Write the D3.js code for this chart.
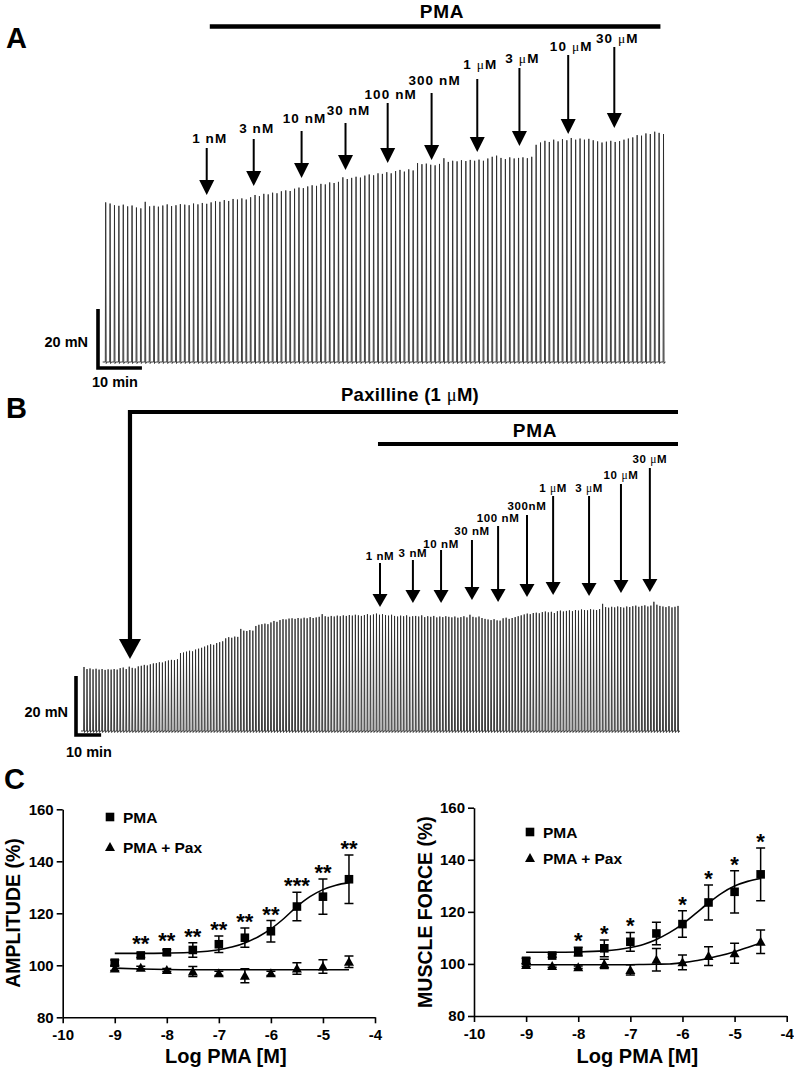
<!DOCTYPE html>
<html><head><meta charset="utf-8">
<script src="https://cdn.jsdelivr.net/npm/d3@7"></script>
<style>
body{margin:0;background:#fff}
svg{display:block}
text{font-family:Arial,"Liberation Sans",sans-serif;font-weight:bold;fill:#000}
</style>
</head><body>
<svg id="fig" width="794" height="1071"></svg>
<script>
// ================= DATA =================
// Panel A: peak force of each twitch (mN), one contraction per minute
const aPeaks = [56.0,55.6,55.0,54.8,55.2,54.6,54.9,54.2,53.9,
  56.2,
  54.6,54.8,54.5,54.9,55.3,54.7,55.0,55.4,55.2,55.0,55.6,55.3,55.8,
  55.5,56.0,56.4,56.2,56.8,56.5,57.2,57.0,57.4,57.0,57.8,
  58.6,58.2,59.0,58.8,59.4,59.2,59.9,60.2,60.0,60.8,
  61.2,61.0,61.6,62.0,61.8,62.5,62.3,63.0,62.8,63.2,
  64.8,64.2,64.6,65.0,64.7,65.4,65.8,65.5,66.2,66.0,
  66.6,66.2,67.0,67.4,66.8,67.6,67.2,69.8,69.4,69.6,
  69.2,69.0,69.5,71.5,70.2,70.6,70.4,70.8,70.5,70.9,70.6,
  71.0,70.6,71.4,72.0,72.4,71.6,71.2,71.8,71.4,71.6,
  71.8,71.5,72.0,
  76.2,77.0,77.6,77.2,78.0,77.4,78.2,77.8,78.6,78.0,78.4,78.0,78.3,
  77.8,77.4,77.0,77.3,77.6,77.2,77.5,78.0,78.4,78.8,79.6,79.4,80.2,80.0,80.8,80.4,80.0];
const aInterval = 1;          // min between contractions
const aBarMin = [23.7, 126.3]; // PMA application (min)
const aDoseLabels = ["1 nM","3 nM","10 nM","30 nM","100 nM","300 nM","1 μM","3 μM","10 μM","30 μM"];
const aDoseTimes  = [23.0,33.7,44.6,54.6,64.2,74.2,84.6,94.2,105.3,115.8];

// Panel B: peak force of each twitch (mN)
const bPeaks = [21.7,21.0,21.2,20.9,21.1,20.8,21.0,20.7,20.9,20.8,
  21.0,20.8,21.3,21.5,21.0,21.8,21.4,21.2,21.9,22.1,
  22.4,22.2,22.6,22.9,23.0,23.3,23.2,23.6,23.9,24.1,24.0,24.3,
  26.4,26.6,26.9,27.2,27.0,27.6,27.9,28.2,
  28.6,29.0,29.4,29.2,29.8,30.1,30.4,31.4,31.8,31.6,
  32.0,31.9,34.6,34.0,33.9,34.2,34.0,35.6,36.0,36.2,
  36.4,36.2,36.8,37.3,37.0,37.6,37.9,37.8,38.1,38.2,
  38.0,38.3,38.1,38.4,38.2,38.6,38.3,38.5,38.7,39.6,
  38.9,38.7,39.0,38.8,39.1,38.9,39.2,39.0,39.3,39.1,
  39.4,39.2,39.0,39.3,39.6,39.2,39.5,39.8,39.4,39.6,
  39.3,39.1,39.4,39.0,38.8,39.1,38.9,39.2,38.7,38.9,
  39.0,38.8,39.2,38.6,38.9,38.7,39.0,38.5,38.8,38.6,
  38.9,38.7,38.5,38.8,38.4,38.6,38.9,38.5,39.4,38.7,
  38.5,38.8,38.3,38.0,37.8,37.6,37.9,37.5,37.4,38.2,
  38.4,38.0,38.3,38.6,38.9,39.2,39.5,39.8,39.6,40.0,
  40.1,39.9,40.3,40.5,40.2,40.4,40.0,40.6,40.8,40.5,
  40.7,40.9,40.6,41.0,40.8,41.2,41.0,40.9,41.3,41.1,
  41.0,41.3,43.1,42.0,41.8,42.1,41.9,42.2,42.0,41.8,
  42.2,42.0,42.3,42.5,42.1,42.4,42.6,42.2,42.5,43.8,
  42.8,42.4,42.2,42.0,42.3,41.9,42.1,42.4];
const bInterval = 1.2;
const bPaxMin = [18.3, 236.4];
const bPmaMin = [117.0, 236.4];
const bDoseLabels = ["1 nM","3 nM","10 nM","30 nM","100 nM","300nM","1 μM","3 μM","10 μM","30 μM"];
const bDoseTimes  = [117.8,130.9,142.1,154.4,164.8,176.3,186.7,201.0,213.7,225.2];

// Panel C
const logConc = [-9,-8.5,-8,-7.5,-7,-6.5,-6,-5.5,-5,-4.5];
const ampPMA     = [101.0,103.8,105.0,105.9,108.1,110.6,113.1,122.6,126.4,133.1];
const ampPMAerr  = [1.0,0.8,1.0,2.8,3.2,3.7,4.1,5.5,6.8,9.3];
const ampPax     = [98.8,99.1,98.2,97.6,96.9,96.0,96.9,98.8,99.5,101.4];
const ampPaxErr  = [0.8,0.5,0.6,1.9,0.8,2.7,0.8,2.2,2.6,2.2];
const ampStars   = ["","**","**","**","**","**","**","***","**","**"];
const forcePMA    = [101.2,103.2,104.7,106.0,108.5,111.7,115.3,123.6,127.7,134.4];
const forcePMAerr = [1.0,0.6,1.7,3.2,3.6,4.3,5.1,6.7,8.1,10.1];
const forcePax    = [99.6,99.2,98.7,100.0,97.7,101.6,100.6,103.0,104.1,108.5];
const forcePaxErr = [0.5,0.5,0.5,1.8,2.0,4.3,2.8,3.6,3.8,4.5];
const forceStars  = ["","","*","*","*","","*","*","*","*"];
const fitX        = [-9,-8.5,-8,-7.5,-7,-6.75,-6.5,-6.25,-6,-5.75,-5.5,-5.25,-5,-4.75,-4.5];
const ampPMAfit   = [104.6,104.6,104.7,105.0,106.0,107.0,108.6,110.9,114.0,118.0,122.6,126.4,129.1,130.8,131.8];
const ampPaxFit   = [98.9,98.6,98.4,98.3,98.3,98.3,98.3,98.3,98.3,98.3,98.3,98.3,98.3,98.3,98.3];
const forcePMAfit = [104.5,104.5,104.6,105.0,106.3,107.5,109.4,112.0,115.3,119.3,123.4,127.1,129.9,131.7,132.8];
const forcePaxFit = [99.7,99.7,99.7,99.7,99.7,99.8,99.9,100.0,100.5,101.2,102.2,103.3,104.7,106.3,108.0];
const xTicks = [-10,-9,-8,-7,-6,-5,-4];
const yTicks = [80,100,120,140,160];
const legendNames = ["PMA","PMA + Pax"];

// ================= LAYOUT (annotation geometry) =================
const aTipY   = [195,186,178,170,163,160,152,146,134,128];
const aTopY   = [148,139,131,123,103,93,79,68,55,47];
const aLabelY = [143,133,123,115,99,85,69,63,51,43];
const bTipY   = [607,603,603,600,602,597,595,596,593,592];
const bTopY   = [563,560,550,540,526,515,496,496,484,468];
const bLabelY = [560,557,548,535,522,510,492,492,479,463];

const svg = d3.select("#fig");

function labelText(g, str, x, y, size, ls, anchor) {
  const t = g.append("text").attr("x", x).attr("y", y).attr("text-anchor", anchor || "middle")
    .style("font-size", size + "px").attr("letter-spacing", ls);
  str.split(/(μ)/).forEach(p => {
    if (!p) return;
    const s = t.append("tspan").text(p);
    if (p === "μ") s.style("font-weight", "normal").style("font-family", "'Liberation Serif','DejaVu Serif',serif");
  });
  return t;
}

function arrow(g, x, top, tip, sw, hw, hh) {
  g.append("line").attr("x1", x).attr("x2", x).attr("y1", top).attr("y2", tip - hh + 1)
    .attr("stroke", "#000").attr("stroke-width", sw);
  g.append("path").attr("d", `M${x - hw / 2},${tip - hh}L${x + hw / 2},${tip - hh}L${x},${tip}Z`).attr("fill", "#000");
}

function trace(g, peaks, interval, xS, yS) {
  const base = yS(0);
  let d = `M${xS(0) - 3},${base}`;
  peaks.forEach((v, i) => {
    const x = xS(i * interval);
    d += `L${x - 0.4},${base}L${x},${yS(v)}L${x + 0.5},${base + 1.5}L${x + 1.4},${base}`;
  });
  d += `L${xS((peaks.length - 1) * interval) + 2},${base}`;
  g.append("path").attr("d", d).attr("fill", "none").attr("stroke", "#2a2a2a").attr("stroke-width", 0.9);
}

function scaleBar(g, cx, cy, vlen, hlen) {
  g.append("path").attr("d", `M${cx},${cy - vlen}L${cx},${cy}L${cx + hlen},${cy}`)
    .attr("fill", "none").attr("stroke", "#000").attr("stroke-width", 3.6);
}

// ================= PANEL A =================
{
  const g = svg.append("g");
  const xA = d3.scaleLinear().domain([0, (aPeaks.length - 1) * aInterval]).range([105.7, 663.5]);
  const yA = d3.scaleLinear().domain([0, 20]).range([362, 305]);
  g.append("text").attr("x", 6).attr("y", 48).style("font-size", "29px").text("A");
  // PMA bar
  g.append("line").attr("x1", xA(aBarMin[0])).attr("x2", xA(aBarMin[1])).attr("y1", 26.5).attr("y2", 26.5)
    .attr("stroke", "#000").attr("stroke-width", 4.5);
  g.append("text").attr("x", 442).attr("y", 18).attr("text-anchor", "middle").style("font-size", "19px")
    .attr("letter-spacing", 0.8).text("PMA");
  trace(g, aPeaks, aInterval, xA, yA);
  aDoseTimes.forEach((t, k) => {
    const x = xA(t);
    arrow(g, x, aTopY[k], aTipY[k], 2, 15, 15);
    labelText(g, aDoseLabels[k], x + 3, aLabelY[k], 13.5, 1.1);
  });
  scaleBar(g, 98, 368, yA(0) - yA(20) + 2, xA(10) - xA(0));
  g.append("text").attr("x", 88).attr("y", 347).attr("text-anchor", "end").style("font-size", "14.5px").text("20 mN");
  g.append("text").attr("x", 115).attr("y", 387).attr("text-anchor", "middle").style("font-size", "14.5px").text("10 min");
}

// ================= PANEL B =================
{
  const g = svg.append("g");
  const xB = d3.scaleLinear().domain([0, (bPeaks.length - 1) * bInterval]).range([84, 678]);
  const yB = d3.scaleLinear().domain([0, 20]).range([731, 672]);
  g.append("text").attr("x", 6).attr("y", 418).style("font-size", "29px").text("B");
  // paxilline bar + big arrow
  const px = xB(bPaxMin[0]);
  g.append("path").attr("d", `M${xB(bPaxMin[1])},412L${px},412L${px},641`)
    .attr("fill", "none").attr("stroke", "#000").attr("stroke-width", 4.2);
  g.append("path").attr("d", `M${px - 11},639L${px + 11},639L${px},659Z`).attr("fill", "#000");
  labelText(g, "Paxilline (1 μM)", 410, 401, 18.5, 0.3);
  g.append("line").attr("x1", xB(bPmaMin[0])).attr("x2", xB(bPmaMin[1])).attr("y1", 444).attr("y2", 444)
    .attr("stroke", "#000").attr("stroke-width", 4.2);
  g.append("text").attr("x", 535).attr("y", 437).attr("text-anchor", "middle").style("font-size", "19px")
    .attr("letter-spacing", 0.8).text("PMA");
  trace(g, bPeaks, bInterval, xB, yB);
  bDoseTimes.forEach((t, k) => {
    const x = xB(t);
    arrow(g, x, bTopY[k], bTipY[k], 2, 15, 13);
    labelText(g, bDoseLabels[k], x, bLabelY[k], 11.5, 0.6);
  });
  scaleBar(g, 76, 735, yB(0) - yB(20), xB(10) - xB(0));
  g.append("text").attr("x", 68).attr("y", 717).attr("text-anchor", "end").style("font-size", "14.5px").text("20 mN");
  g.append("text").attr("x", 89).attr("y", 757).attr("text-anchor", "middle").style("font-size", "14.5px").text("10 min");
}

// ================= PANEL C =================
svg.append("text").attr("x", 4).attr("y", 789).style("font-size", "29px").text("C");

function drawDR(o) {
  const g = svg.append("g");
  const x = d3.scaleLinear().domain([-10, -4]).range(o.xr);
  const y = d3.scaleLinear().domain([80, 160]).range(o.yr);
  const ax = g.append("g").attr("transform", `translate(0,${o.yr[0]})`)
    .call(d3.axisBottom(x).tickValues(xTicks).tickFormat(d => String(d)).tickSize(6).tickSizeOuter(0).tickPadding(6));
  const ay = g.append("g").attr("transform", `translate(${o.xr[0]},0)`)
    .call(d3.axisLeft(y).tickValues(yTicks).tickSize(6).tickSizeOuter(0).tickPadding(3));
  [ax, ay].forEach(a => {
    a.attr("font-family", null).attr("font-size", null);
    a.selectAll("path,line").attr("stroke", "#000").attr("stroke-width", 1.6);
    a.selectAll("text").style("font-size", "15px").attr("fill", "#000");
  });
  g.append("text").attr("x", (o.xr[0] + o.xr[1]) / 2 + 7).attr("y", 1063).attr("text-anchor", "middle")
    .style("font-size", "20px").text("Log PMA [M]");
  g.append("text").attr("transform", `translate(${o.ytx},${o.yty}) rotate(-90)`).attr("text-anchor", "middle")
    .style("font-size", "19.5px").text(o.ytitle);

  const line = d3.line().x((d, i) => x(fitX[i])).y(d => y(d)).curve(d3.curveMonotoneX);
  [o.fit1, o.fit2].forEach(f => g.append("path").attr("d", line(f)).attr("fill", "none")
    .attr("stroke", "#000").attr("stroke-width", 1.6));

  const series = [[o.m1, o.e1], [o.m2, o.e2]];
  series.forEach(([m, e]) => {
    m.forEach((v, i) => {
      const cx = x(logConc[i]), y1 = y(v + e[i]), y2 = y(v - e[i]);
      g.append("path").attr("d", `M${cx},${y1}L${cx},${y2}M${cx - 4.5},${y1}L${cx + 4.5},${y1}M${cx - 4.5},${y2}L${cx + 4.5},${y2}`)
        .attr("stroke", "#000").attr("stroke-width", 1.5).attr("fill", "none");
    });
  });
  const sq = (cx, cy) => `M${cx - 4.3},${cy - 4.3}h8.6v8.6h-8.6Z`;
  const tri = (cx, cy) => `M${cx - 5},${cy + 4}L${cx + 5},${cy + 4}L${cx},${cy - 5}Z`;
  o.m1.forEach((v, i) => g.append("path").attr("d", sq(x(logConc[i]), y(v))).attr("fill", "#000"));
  o.m2.forEach((v, i) => g.append("path").attr("d", tri(x(logConc[i]), y(v))).attr("fill", "#000"));
  o.stars.forEach((s, i) => {
    if (!s) return;
    const top = Math.min(y(o.m1[i] + o.e1[i]), y(o.m1[i]) - 5);
    g.append("text").attr("x", x(logConc[i])).attr("y", top + 1).attr("text-anchor", "middle")
      .style("font-size", "22px").text(s);
  });
  // legend
  g.append("path").attr("d", sq(o.lx, o.ly1)).attr("fill", "#000");
  g.append("path").attr("d", tri(o.lx, o.ly2)).attr("fill", "#000");
  g.append("text").attr("x", o.lx + 13).attr("y", o.ly1 + 6).style("font-size", "15.5px").text(legendNames[0]);
  g.append("text").attr("x", o.lx + 13).attr("y", o.ly2 + 5.5).style("font-size", "15.5px").text(legendNames[1]);
}

drawDR({xr: [62.7, 375], yr: [1017.3, 809.3], ytitle: "AMPLITUDE (%)", ytx: 20, yty: 913,
  m1: ampPMA, e1: ampPMAerr, m2: ampPax, e2: ampPaxErr, fit1: ampPMAfit, fit2: ampPaxFit,
  stars: ampStars, lx: 110, ly1: 817, ly2: 847});
drawDR({xr: [474, 786.7], yr: [1016, 807.7], ytitle: "MUSCLE FORCE (%)", ytx: 432, yty: 912,
  m1: forcePMA, e1: forcePMAerr, m2: forcePax, e2: forcePaxErr, fit1: forcePMAfit, fit2: forcePaxFit,
  stars: forceStars, lx: 530, ly1: 832, ly2: 858});
</script>
</body></html>
